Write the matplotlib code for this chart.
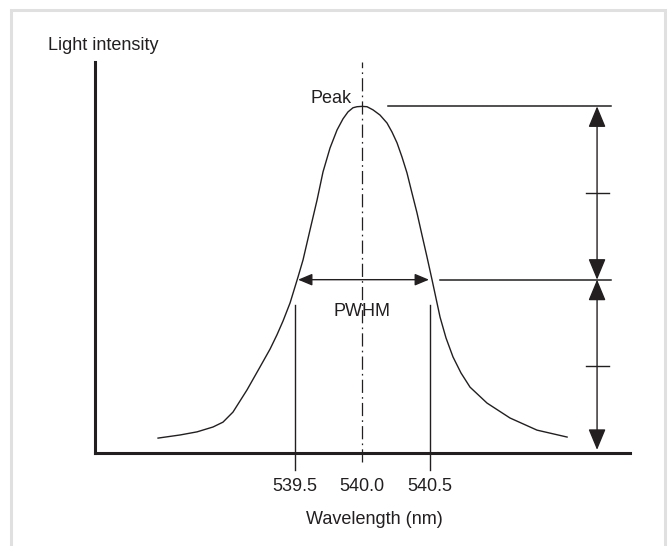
import matplotlib
matplotlib.use('Agg')
import matplotlib.pyplot as plt
from matplotlib.patches import Rectangle

plt.rcParams['font.family'] = ['Liberation Sans', 'DejaVu Sans']
plt.rcParams['lines.scale_dashes'] = False

ink = '#231f20'

# spectrum (wavelength in nm, relative intensity)
wavelength = [538.489, 538.652, 538.778, 538.896, 538.970, 539.044, 539.148, 539.244,
              539.319, 539.370, 539.415, 539.467, 539.526, 539.563, 539.615,
              539.667, 539.711, 539.763, 539.815, 539.859, 539.896, 539.933, 539.963,
              540.0,
              540.037, 540.081, 540.133, 540.185, 540.222, 540.259, 540.296, 540.333,
              540.370, 540.407, 540.444, 540.481, 540.519, 540.578, 540.622, 540.674,
              540.733, 540.800, 540.926, 541.096, 541.296, 541.519]
intensity = [0.043, 0.052, 0.061, 0.075, 0.089, 0.118, 0.182, 0.248,
             0.300, 0.341, 0.381, 0.433, 0.508, 0.557, 0.644,
             0.730, 0.811, 0.880, 0.932, 0.964, 0.984, 0.996, 0.999,
             1.0,
             0.999, 0.990, 0.975, 0.952, 0.926, 0.895, 0.854, 0.808,
             0.750, 0.693, 0.629, 0.566, 0.499, 0.392, 0.332, 0.277,
             0.231, 0.190, 0.144, 0.101, 0.066, 0.046]

tick_values = [539.5, 540.0, 540.5]
tick_labels = ['539.5', '540.0', '540.5']

peak = max(intensity)
half = peak / 2
center = wavelength[intensity.index(peak)]

fig = plt.figure(figsize=(6.7, 5.46), dpi=100)
ax = fig.add_axes([95 / 670, 93 / 546, 535 / 670, 391 / 546])
ax.set_xlim(538.022, 541.985)
ax.set_ylim(0, 1.128)

for s in ['top', 'right']:
    ax.spines[s].set_visible(False)
for s in ['left', 'bottom']:
    ax.spines[s].set_linewidth(2.2)
    ax.spines[s].set_color(ink)

ax.set_yticks([])
ax.set_xticks(tick_values, tick_labels, fontsize=13)
ax.tick_params(axis='x', length=0, pad=18, colors=ink)
ax.set_xlabel('Wavelength (nm)', fontsize=13, color=ink)
ax.xaxis.set_label_coords(0.5215, -0.148)

# curve
ax.plot(wavelength, intensity, color=ink, lw=1.0, clip_on=False, solid_joinstyle='round')

# centre line
ax.plot([center, center], [-0.026, 1.128], color=ink, lw=0.9,
        ls=(0, (9.5, 3, 1.2, 3)), clip_on=False)

# FWHM bounds
for x in [tick_values[0], tick_values[2]]:
    ax.plot([x, x], [-0.049, 0.427], color=ink, lw=1.0, clip_on=False)

# reference lines at peak and half
ax.plot([540.193, 541.844], [peak, peak], color=ink, lw=1.1, clip_on=False)
ax.plot([540.578, 541.844], [half, half], color=ink, lw=1.1, clip_on=False)
ax.plot([541.659, 541.830], [peak * 0.75, peak * 0.75], color=ink, lw=1.0, clip_on=False)
ax.plot([541.659, 541.830], [half / 2, half / 2], color=ink, lw=1.0, clip_on=False)

big = dict(arrowstyle='<|-|>,head_length=1.3,head_width=0.54', mutation_scale=10,
           color=ink, lw=1.0, shrinkA=0, shrinkB=0)
ax.annotate('', xy=(541.741, peak), xytext=(541.741, half), arrowprops=big, annotation_clip=False)
ax.annotate('', xy=(541.741, 0.009), xytext=(541.741, half), arrowprops=big, annotation_clip=False)

small = dict(arrowstyle='<|-|>,head_length=0.86,head_width=0.36', mutation_scale=10,
             color=ink, lw=1.0, shrinkA=0, shrinkB=0)
ax.annotate('', xy=(539.526, half), xytext=(540.496, half), arrowprops=small, annotation_clip=False)

ax.text(539.926, 1.010, 'Peak', ha='right', va='baseline', fontsize=13, color=ink)
ax.text(center, 0.395, 'PWHM', ha='center', va='baseline', fontsize=13, color=ink)
fig.text(48 / 670, (546 - 50) / 546, 'Light intensity', ha='left', va='baseline',
         fontsize=13, color=ink)

# light grey frame
fig.add_artist(Rectangle((11.3 / 670, -0.05), (665 - 11.3) / 670, (546 - 9.5) / 546 + 0.05,
                         transform=fig.transFigure, fill=False, ec='#e0e0e0', lw=2.2))

fig.savefig('out.png', dpi=100)
